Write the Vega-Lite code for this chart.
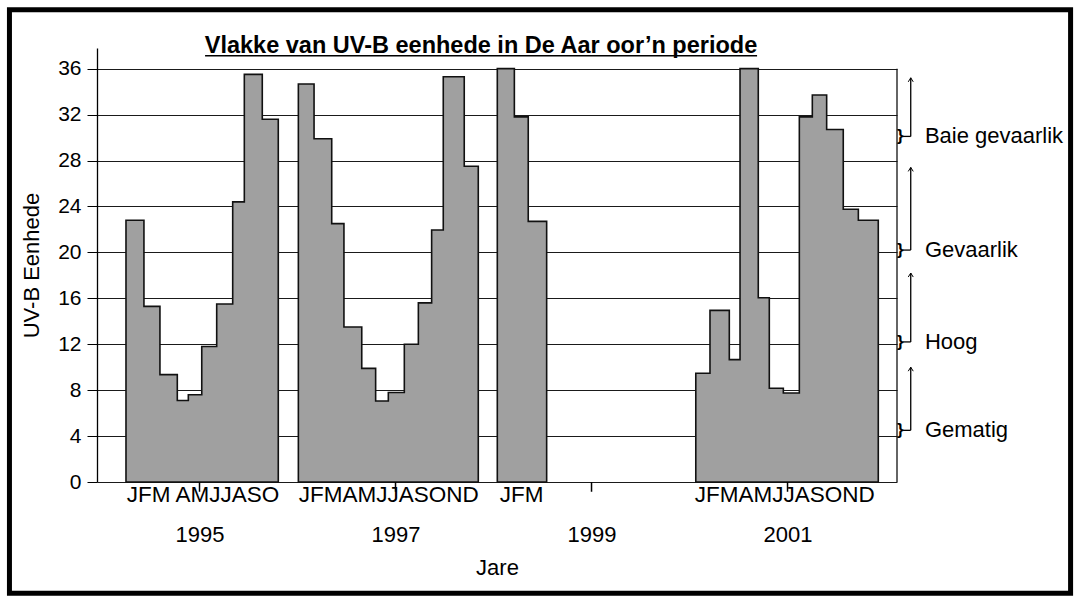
{
  "$schema": "https://vega.github.io/schema/vega-lite/v6.json",
  "width": 800,
  "height": 434,
  "autosize": {"type": "none"},
  "padding": {"left": 97, "top": 48, "right": 181, "bottom": 114},
  "background": "white",
  "config": {
    "font": "Liberation Sans",
    "view": {"stroke": null},
    "axis": {"labelFont": "Liberation Sans", "titleFont": "Liberation Sans"}
  },
  "title": {
    "text": "Vlakke van UV-B eenhede in De Aar oor’n periode",
    "fontSize": 23.5,
    "fontWeight": "bold",
    "color": "black",
    "anchor": "middle",
    "dx": -16,
    "offset": -69,
    "baseline": "alphabetic"
  },
  "datasets": {
    "blocks": [
      {"block": "1995", "months": "JFM AMJJASO"},
      {"block": "1997", "months": "JFMAMJJASOND"},
      {"block": "1998", "months": "JFM"},
      {"block": "2001", "months": "JFMAMJJASOND"}
    ]
  },
  "layer": [
    {
      "layer": [
        {
          "data": {
            "values": [
              {"block": "1995", "i": 1, "m": "J", "x0": 1.92, "x1": 3.11, "uv": 22.8},
              {"block": "1995", "i": 2, "m": "F", "x0": 3.11, "x1": 4.17, "uv": 15.3},
              {"block": "1995", "i": 3, "m": "M", "x0": 4.17, "x1": 5.32, "uv": 9.35},
              {"block": "1995", "i": 4, "m": "A", "x0": 5.32, "x1": 6.05, "uv": 7.1},
              {"block": "1995", "i": 5, "m": "M", "x0": 6.05, "x1": 6.94, "uv": 7.6},
              {"block": "1995", "i": 6, "m": "J", "x0": 6.94, "x1": 7.93, "uv": 11.8},
              {"block": "1995", "i": 7, "m": "J", "x0": 7.93, "x1": 8.99, "uv": 15.5},
              {"block": "1995", "i": 8, "m": "A", "x0": 8.99, "x1": 9.76, "uv": 24.4},
              {"block": "1995", "i": 9, "m": "S", "x0": 9.76, "x1": 10.95, "uv": 35.5},
              {"block": "1995", "i": 10, "m": "O", "x0": 10.95, "x1": 12.01, "uv": 31.6},
              {"block": "1997", "i": 1, "m": "J", "x0": 13.34, "x1": 14.38, "uv": 34.66},
              {"block": "1997", "i": 2, "m": "F", "x0": 14.38, "x1": 15.55, "uv": 29.9},
              {"block": "1997", "i": 3, "m": "M", "x0": 15.55, "x1": 16.36, "uv": 22.5},
              {"block": "1997", "i": 4, "m": "A", "x0": 16.36, "x1": 17.54, "uv": 13.5},
              {"block": "1997", "i": 5, "m": "M", "x0": 17.54, "x1": 18.46, "uv": 9.9},
              {"block": "1997", "i": 6, "m": "J", "x0": 18.46, "x1": 19.3, "uv": 7.05},
              {"block": "1997", "i": 7, "m": "J", "x0": 19.3, "x1": 20.36, "uv": 7.8},
              {"block": "1997", "i": 8, "m": "A", "x0": 20.36, "x1": 21.29, "uv": 12.0},
              {"block": "1997", "i": 9, "m": "S", "x0": 21.29, "x1": 22.17, "uv": 15.6},
              {"block": "1997", "i": 10, "m": "O", "x0": 22.17, "x1": 22.94, "uv": 21.95},
              {"block": "1997", "i": 11, "m": "N", "x0": 22.94, "x1": 24.33, "uv": 35.3},
              {"block": "1997", "i": 12, "m": "D", "x0": 24.33, "x1": 25.26, "uv": 27.5},
              {"block": "1998", "i": 1, "m": "J", "x0": 26.52, "x1": 27.65, "uv": 36},
              {"block": "1998", "i": 2, "m": "F", "x0": 27.65, "x1": 28.57, "uv": 31.8},
              {"block": "1998", "i": 3, "m": "M", "x0": 28.57, "x1": 29.79, "uv": 22.7},
              {"block": "2001", "i": 1, "m": "J", "x0": 39.67, "x1": 40.61, "uv": 9.47},
              {"block": "2001", "i": 2, "m": "F", "x0": 40.61, "x1": 41.89, "uv": 14.95},
              {"block": "2001", "i": 3, "m": "M", "x0": 41.89, "x1": 42.6, "uv": 10.66},
              {"block": "2001", "i": 4, "m": "A", "x0": 42.6, "x1": 43.81, "uv": 36},
              {"block": "2001", "i": 5, "m": "M", "x0": 43.81, "x1": 44.54, "uv": 16.05},
              {"block": "2001", "i": 6, "m": "J", "x0": 44.54, "x1": 45.47, "uv": 8.16},
              {"block": "2001", "i": 7, "m": "J", "x0": 45.47, "x1": 46.53, "uv": 7.75},
              {"block": "2001", "i": 8, "m": "A", "x0": 46.53, "x1": 47.39, "uv": 31.8},
              {"block": "2001", "i": 9, "m": "S", "x0": 47.39, "x1": 48.34, "uv": 33.7},
              {"block": "2001", "i": 10, "m": "O", "x0": 48.34, "x1": 49.44, "uv": 30.7},
              {"block": "2001", "i": 11, "m": "N", "x0": 49.44, "x1": 50.44, "uv": 23.75},
              {"block": "2001", "i": 12, "m": "D", "x0": 50.44, "x1": 51.76, "uv": 22.8}
            ]
          },
          "transform": [{"fold": ["x0", "x1"], "as": ["edge", "xpos"]}],
          "layer": [
            {
              "mark": {"type": "area", "interpolate": "linear", "fill": "#a0a0a0", "stroke": "#111111", "strokeWidth": 1.6, "opacity": 1, "fillOpacity": 1},
              "encoding": {
                "x": {"field": "xpos", "type": "quantitative", "scale": {"domain": [0, 53], "nice": false, "zero": false}, "axis": null},
                "y": {
                  "field": "uv", "type": "quantitative", "stack": null,
                  "scale": {"domain": [0, 37.8], "nice": false, "zero": true},
                  "axis": {
                    "values": [0, 4, 8, 12, 16, 20, 24, 28, 32, 36],
                    "grid": true, "gridColor": "#1a1a1a", "gridWidth": 1, "gridOpacity": 1,
                    "domainColor": "black", "domainWidth": 1.3,
                    "tickColor": "black", "tickSize": 10, "tickWidth": 1,
                    "labelFontSize": 21, "labelPadding": 6, "labelColor": "black",
                    "title": "UV-B Eenhede", "titleFontSize": 22, "titleFontWeight": "normal",
                    "titlePadding": 14, "titleColor": "black"
                  }
                },
                "detail": {"field": "block"}
              }
            },
            {
              "transform": [
                {"lookup": "block", "from": {"data": {"name": "blocks"}, "key": "block", "fields": ["months"]}}
              ],
              "mark": {"type": "text", "fontSize": 22.5, "baseline": "alphabetic", "align": "center", "color": "black"},
              "encoding": {
                "x": {"aggregate": "mean", "field": "xpos", "type": "quantitative", "axis": null},
                "y": {"datum": -1.74},
                "text": {"field": "months"},
                "detail": {"field": "block"}
              }
            }
          ]
        },
        {
          "data": {"values": [{}]},
          "layer": [
            {
              "mark": {"type": "rule", "color": "#111111", "strokeWidth": 1.3},
              "encoding": {
                "x": {"datum": 53, "axis": null},
                "y": {"datum": 0},
                "y2": {"datum": 36}
              }
            },
            {
              "mark": {"type": "rule", "color": "black", "strokeWidth": 1.5},
              "encoding": {
                "x": {"datum": 7.16, "axis": null},
                "x2": {"datum": 43.73},
                "y": {"datum": 37.13}
              }
            },
            {
              "mark": {"type": "rect", "filled": false, "color": "black", "strokeWidth": 5},
              "encoding": {
                "x": {"datum": -5.8, "axis": null},
                "x2": {"datum": 64.5},
                "y": {"datum": 41.13},
                "y2": {"datum": -9.7}
              }
            }
          ]
        },
        {
          "data": {
            "values": [
              {"label": "Baie gevaarlik", "lo": 30.1, "hi": 35.2},
              {"label": "Gevaarlik", "lo": 20.2, "hi": 27.4},
              {"label": "Hoog", "lo": 12.2, "hi": 18.2},
              {"label": "Gematig", "lo": 4.5, "hi": 10.0}
            ]
          },
          "layer": [
            {
              "mark": {"type": "text", "text": "}", "fontSize": 17, "fontWeight": "bold", "align": "left", "baseline": "middle", "color": "black"},
              "encoding": {
                "x": {"datum": 53.0, "axis": null},
                "y": {"field": "lo", "type": "quantitative"}
              }
            },
            {
              "mark": {"type": "rule", "color": "black", "strokeWidth": 1.3},
              "encoding": {
                "x": {"datum": 53.4, "axis": null},
                "x2": {"datum": 53.91},
                "y": {"field": "lo", "type": "quantitative"}
              }
            },
            {
              "mark": {"type": "rule", "color": "black", "strokeWidth": 1.3},
              "encoding": {
                "x": {"datum": 53.91, "axis": null},
                "y": {"field": "lo", "type": "quantitative"},
                "y2": {"field": "hi"}
              }
            },
            {
              "mark": {"type": "point", "shape": "M-0.5,0.8L0,0L0.5,0.8", "filled": false, "color": "black", "strokeWidth": 1, "size": 100, "opacity": 1},
              "encoding": {
                "x": {"datum": 53.91, "axis": null},
                "y": {"field": "hi", "type": "quantitative"}
              }
            },
            {
              "mark": {"type": "text", "fontSize": 22, "align": "left", "baseline": "middle", "color": "black"},
              "encoding": {
                "x": {"datum": 54.85, "axis": null},
                "y": {"field": "lo", "type": "quantitative"},
                "text": {"field": "label"}
              }
            }
          ]
        }
      ]
    },
    {
      "data": {"values": [{"year": 1995}, {"year": 1997}, {"year": 1999}, {"year": 2001}]},
      "mark": {"type": "rule", "color": "black", "strokeWidth": 1.5},
      "encoding": {
        "x": {
          "field": "year", "type": "quantitative",
          "scale": {"domain": [1993.954, 2002.117], "nice": false, "zero": false},
          "axis": {
            "orient": "bottom", "values": [1995, 1997, 1999, 2001], "format": "d",
            "domain": false, "ticks": false, "tickSize": 0, "grid": false,
            "labelFontSize": 22, "labelPadding": 42, "labelColor": "black",
            "title": "Jare", "titleFontSize": 22, "titleFontWeight": "normal",
            "titlePadding": 12, "titleColor": "black"
          }
        },
        "y": {"datum": 0},
        "y2": {"datum": -0.85}
      }
    }
  ],
  "resolve": {"scale": {"x": "independent"}, "axis": {"x": "independent"}}
}
